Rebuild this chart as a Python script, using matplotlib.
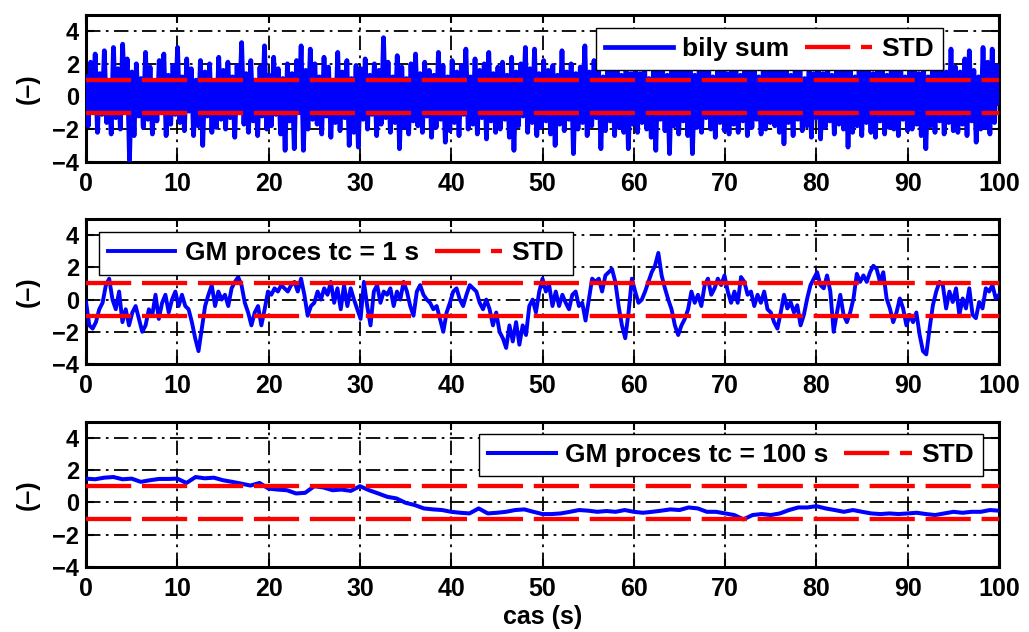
import matplotlib
matplotlib.use("Agg")
import matplotlib.pyplot as plt
import numpy as np

# white noise ("bily sum"), read every 0.25 s
white_noise = [
    1.2, -1.8, 2.1, -0.9, 2.6, -2.2, 1.4, -1.1, 2.8, -1.6, 0.9, -2.3, 3.0, -1.3, 1.7, -2.0, 3.2, -0.8, 2.3, -3.9,
    1.5, -2.4, 2.0, -1.2, 1.1, -1.9, 2.7, -1.4, 1.8, -2.3, 0.8, -1.5, 2.2, -1.0, 2.6, -2.4, 1.3, -1.7, 1.9, -1.1,
    3.0, -1.6, 1.2, -2.1, 2.3, -0.9, 1.7, -2.4, 1.0, -1.8, 2.2, -3.0, 1.5, -1.2, 2.0, -2.2, 0.9, -1.9, 2.4, -1.4,
    1.6, -2.0, 2.1, -1.3, 1.2, -2.5, 1.9, -1.0, 3.3, -1.7, 1.4, -2.2, 2.2, -1.5, 1.0, -2.4, 1.8, -1.2, 3.1, -2.0,
    1.3, -1.8, 2.4, -1.1, 1.7, -2.3, 1.1, -3.3, 2.0, -1.5, 1.4, -3.2, 2.2, -1.0, 3.1, -3.3, 1.6, -2.0, 2.9, -1.4,
    2.0, -1.7, 1.2, -2.3, 2.4, -1.2, 1.8, -2.5, 1.0, -1.6, 2.7, -2.1, 1.5, -1.3, 2.2, -3.0, 1.1, -2.2, 1.9, -3.1,
    1.7, -1.4, 2.3, -2.0, 1.3, -1.1, 2.0, -2.4, 1.6, -1.7, 3.6, -1.3, 2.1, -2.2, 1.2, -1.6, 2.5, -3.2, 1.8, -1.9,
    1.1, -2.3, 2.0, -1.5, 2.6, -1.8, 1.4, -2.2, 2.1, -1.2, 1.6, -2.5, 1.3, -1.9, 2.7, -1.4, 1.9, -2.8, 1.2, -2.1,
    2.2, -1.6, 1.5, -2.4, 1.9, -1.1, 2.9, -2.0, 1.2, -1.7, 2.3, -2.3, 1.6, -1.3, 2.0, -2.6, 2.7, -1.5, 1.4, -2.2,
    1.8, -2.0, 2.1, -1.4, 1.3, -2.5, 2.4, -3.3, 1.5, -1.8, 2.0, -1.2, 3.0, -2.2, 1.7, -1.6, 2.9, -2.4, 1.4, -1.9,
    2.2, -1.5, 1.6, -2.3, 1.9, -3.0, 1.3, -1.7, 2.8, -2.1, 1.5, -1.4, 2.0, -3.5, 1.4, -2.0, 1.8, -1.6, 3.1, -2.4,
    1.5, -1.8, 2.2, -1.3, 1.7, -3.2, 1.2, -2.1, 2.0, -1.5, 1.6, -2.4, 2.6, -1.9, 1.3, -2.2, 2.1, -3.2, 1.4, -1.7,
    2.0, -2.2, 1.4, -1.6, 2.3, -2.0, 1.1, -2.5, 1.8, -3.3, 2.2, -1.4, 1.6, -2.1, 1.3, -3.5, 2.0, -1.8, 1.5, -2.3,
    1.7, -1.5, 2.1, -2.4, 2.5, -3.5, 1.3, -1.9, 1.9, -2.2, 1.6, -1.3, 2.2, -2.0, 1.2, -2.5, 1.8, -1.6, 2.0, -2.1,
    1.4, -2.3, 2.0, -1.7, 1.6, -2.2, 1.3, -1.5, 2.6, -2.4, 1.5, -1.9, 2.1, -1.4, 1.2, -2.3, 1.9, -2.0, 1.7, -1.6,
    2.1, -1.8, 1.5, -2.2, 2.4, -2.9, 1.7, -1.6, 1.3, -2.4, 2.2, -1.4, 1.6, -2.1, 1.1, -1.8, 2.0, -2.5, 1.4, -1.3,
    1.8, -2.6, 1.4, -1.9, 2.2, -1.5, 1.3, -2.3, 1.9, -1.7, 1.5, -2.0, 2.3, -3.1, 1.6, -2.2, 1.2, -1.8, 2.5, -2.4,
    2.5, -1.6, 1.7, -2.2, 1.4, -2.5, 2.1, -1.5, 1.6, -2.3, 1.3, -1.9, 2.2, -2.0, 1.5, -2.4, 1.9, -1.4, 1.2, -2.1,
    1.6, -2.0, 2.3, -1.7, 1.4, -2.4, 1.9, -3.2, 1.2, -1.8, 2.1, -2.2, 1.7, -1.5, 2.0, -2.3, 1.5, -1.6, 2.9, -2.1,
    1.8, -2.2, 1.5, -1.7, 2.3, -2.4, 2.8, -1.5, 1.6, -2.8, 1.2, -2.0, 3.0, -1.9, 2.1, -2.3, 2.9, -1.6, 1.9, -0.4,
]

# Gauss-Markov process, tc = 1 s (read about every 0.36 s)
gm_fast = [
    -0.15, -1.6, -1.8, -1.4, -0.6, -0.2, 0.9, 1.3, 0.0, -0.6, 0.5, -1.4, -0.6, -1.6, -0.8, -0.4, -1.2, -2.0,
    -1.6, -0.6, -1.0, 0.3, -1.2, -0.2, 0.3, -0.8, 0.0, 0.5, -0.4, 0.3, -0.4, -0.6, -1.4, -2.4, -3.2, -1.8,
    -0.4, 0.3, 0.9, -0.4, 0.5, 0.0, 0.3, -0.4, 0.7, 1.1, 1.4, 0.9, -0.2, -0.8, -1.6, -0.8, -0.4, -1.6,
    -0.6, 0.5, 0.3, 0.7, 0.5, 0.9, 0.7, 0.5, 0.9, 1.1, 0.5, 1.3, 0.3, -1.0, -0.4,
    -0.2, 0.5, 0.0, 0.7, 0.3, 1.1, -0.2, 0.7, -0.6, 0.9, -0.4, 0.7, 0.0, -0.6, -1.2, 1.1, -0.4, -1.6,
    0.5, 0.9, -0.2, 0.5, 0.3, 0.7, -0.4, 0.5, 0.0, 1.1, 0.5, -0.4, -1.0, 0.5, 0.9, 0.3, 0.0, -0.2,
    -0.6, -0.4, -1.2, -2.0, -0.8, -0.2, 0.5, 0.7, 0.0, -0.4, 0.3, 0.9, 0.7, 0.5, -0.2, -0.6, 0.0, -0.6,
    -1.6, -0.8, -2.0, -2.4, -3.0, -1.6, -2.6, -1.4, -2.8, -1.6, -2.2, -0.4, 0.0, -0.8, 0.5, 1.3, 0.5,
    0.9, -0.4, 0.5, -0.4, 0.3, -0.2, -0.6, 0.3, 0.5, -0.4, -0.2, -1.3, 0.0, 1.3, 1.1, 1.3, 0.5, 1.5,
    1.7, 1.9, 1.1, -0.4, -1.6, -2.4, -0.8, 1.3, 0.5, -0.2, 0.0, 0.5, 1.1, 1.7, 2.1, 2.9, 1.5, 0.7,
    0.0, -0.6, -1.6, -2.2, -1.6, -1.2, -0.6, 0.5, -0.2, 0.3, -0.4, 0.9, 1.3, 0.3, 0.7, 1.3, 0.9, 1.5,
    0.5, -0.2, 0.5, -0.2, 1.4, 1.1, 0.3, 0.5, -0.4, 0.3, -0.2, 0.5, -0.6, -0.8, -1.4, -1.8,
    -0.8, 0.3, -0.55, -0.15, -0.8, -0.35, -1.6, -0.95, 0.07, 0.9, 1.3, 1.7, 0.9, 0.7, 1.5, 0.5, -2.0,
    -0.8, 0.3, -0.95, -1.4, -0.8, 0.07, 1.6, 1.1, 1.5, 1.1, 1.7, 2.1, 1.9, 1.1, 1.7, 0.07, -0.55, -1.4,
    -0.8, 0.07, -0.55, -1.6, -0.95, -1.4, -0.8, -2.2, -3.2, -3.4, -1.8, -0.35, 0.5, 1.1, 0.9, -0.55,
    0.5, -0.15, 0.7, -0.95, 0.07, -0.55, 0.7, -0.95, -1.15, -0.15, -0.55, 0.7, 0.5, 0.9, 0.07, 0.3,
]

# Gauss-Markov process, tc = 100 s (read every 1 s)
gm_slow = [
    1.48, 1.44, 1.54, 1.58, 1.44, 1.48, 1.28, 1.38, 1.46, 1.46,
    1.48, 1.21, 1.58, 1.50, 1.54, 1.38, 1.28, 1.17, 1.05, 1.21,
    0.86, 0.80, 0.76, 0.56, 0.60, 1.01, 0.93, 0.76, 0.80, 0.72,
    1.01, 0.76, 0.56, 0.35, 0.25, -0.02, -0.16, -0.37, -0.43, -0.47,
    -0.58, -0.64, -0.68, -0.37, -0.68, -0.64, -0.58, -0.47, -0.43, -0.58,
    -0.72, -0.72, -0.68, -0.58, -0.47, -0.51, -0.58, -0.53, -0.58, -0.47,
    -0.58, -0.64, -0.58, -0.51, -0.43, -0.47, -0.31, -0.37, -0.58, -0.58,
    -0.68, -0.78, -1.05, -0.78, -0.72, -0.78, -0.68, -0.47, -0.31, -0.31,
    -0.23, -0.37, -0.47, -0.58, -0.47, -0.58, -0.68, -0.72, -0.68, -0.72,
    -0.68, -0.64, -0.72, -0.78, -0.68, -0.58, -0.64, -0.58, -0.58, -0.47,
    -0.51,
]

std_level = 1.0
labels = ["bily sum", "GM proces tc = 1 s", "GM proces tc = 100 s"]
x_ticks = [0, 10, 20, 30, 40, 50, 60, 70, 80, 90, 100]
y_ticks = [-4, -2, 0, 2, 4]

plt.rcParams['font.family'] = ['Liberation Sans', 'DejaVu Sans']
plt.rcParams['font.weight'] = 'bold'
plt.rcParams['path.simplify'] = False

fig = plt.figure(figsize=(10.29, 6.32), dpi=100)
grid_style = (0, (8, 3, 1.5, 3))

# axes boxes [left, bottom, width, height] and legend anchors
boxes = [[0.0836, 0.744, 0.8873, 0.2326],
         [0.0836, 0.424, 0.8873, 0.2294],
         [0.0836, 0.103, 0.8873, 0.2294]]
leg_locs = ['upper right', 'upper left', 'upper right']
leg_anchor = [(0.939, 0.91), (0.014, 0.91), (0.982, 0.917)]
series = [white_noise, gm_fast, gm_slow]
blue_width = [3.4, 2.8, 2.9]

for i in range(3):
    ax = fig.add_axes(boxes[i])
    y = series[i]
    t = np.linspace(0, 100, len(y))
    ax.plot(t, y, color='#0000ff', linewidth=blue_width[i], label=labels[i], zorder=3)
    ax.plot([0, 100], [std_level, std_level], color='#ff0000', linewidth=3.1,
            dashes=(10.5, 2.5), label='STD', zorder=4)
    ax.plot([0, 100], [-std_level, -std_level], color='#ff0000', linewidth=3.1,
            dashes=(10.5, 2.5), zorder=4)
    ax.set_xlim(0, 100)
    ax.set_ylim(-4, 5)
    ax.set_xticks(x_ticks)
    ax.set_yticks(y_ticks)
    ax.grid(True, color='k', linestyle=grid_style, linewidth=1.3)
    ax.set_axisbelow(True)
    ax.tick_params(direction='in', length=6, width=1.5, top=True, right=True)
    ax.tick_params(axis='x', labelsize=18, pad=7.5)
    ax.tick_params(axis='y', labelsize=17, pad=5)
    for s in ax.spines.values():
        s.set_linewidth(2.2)
    ax.set_ylabel('(–)', fontsize=18, fontweight='bold', labelpad=9)
    leg = ax.legend(loc=leg_locs[i], bbox_to_anchor=leg_anchor[i], ncol=2,
                    fontsize=19, handlelength=2.55, fancybox=False, framealpha=1,
                    edgecolor='k', borderaxespad=0, columnspacing=0.6,
                    handletextpad=0.35, borderpad=0.35)
    leg.get_frame().set_linewidth(1.0)
    leg.set_zorder(10)
    if i == 2:
        ax.set_xlabel('cas (s)', fontsize=18, fontweight='bold', labelpad=3)

fig.savefig('out.png', dpi=100)
